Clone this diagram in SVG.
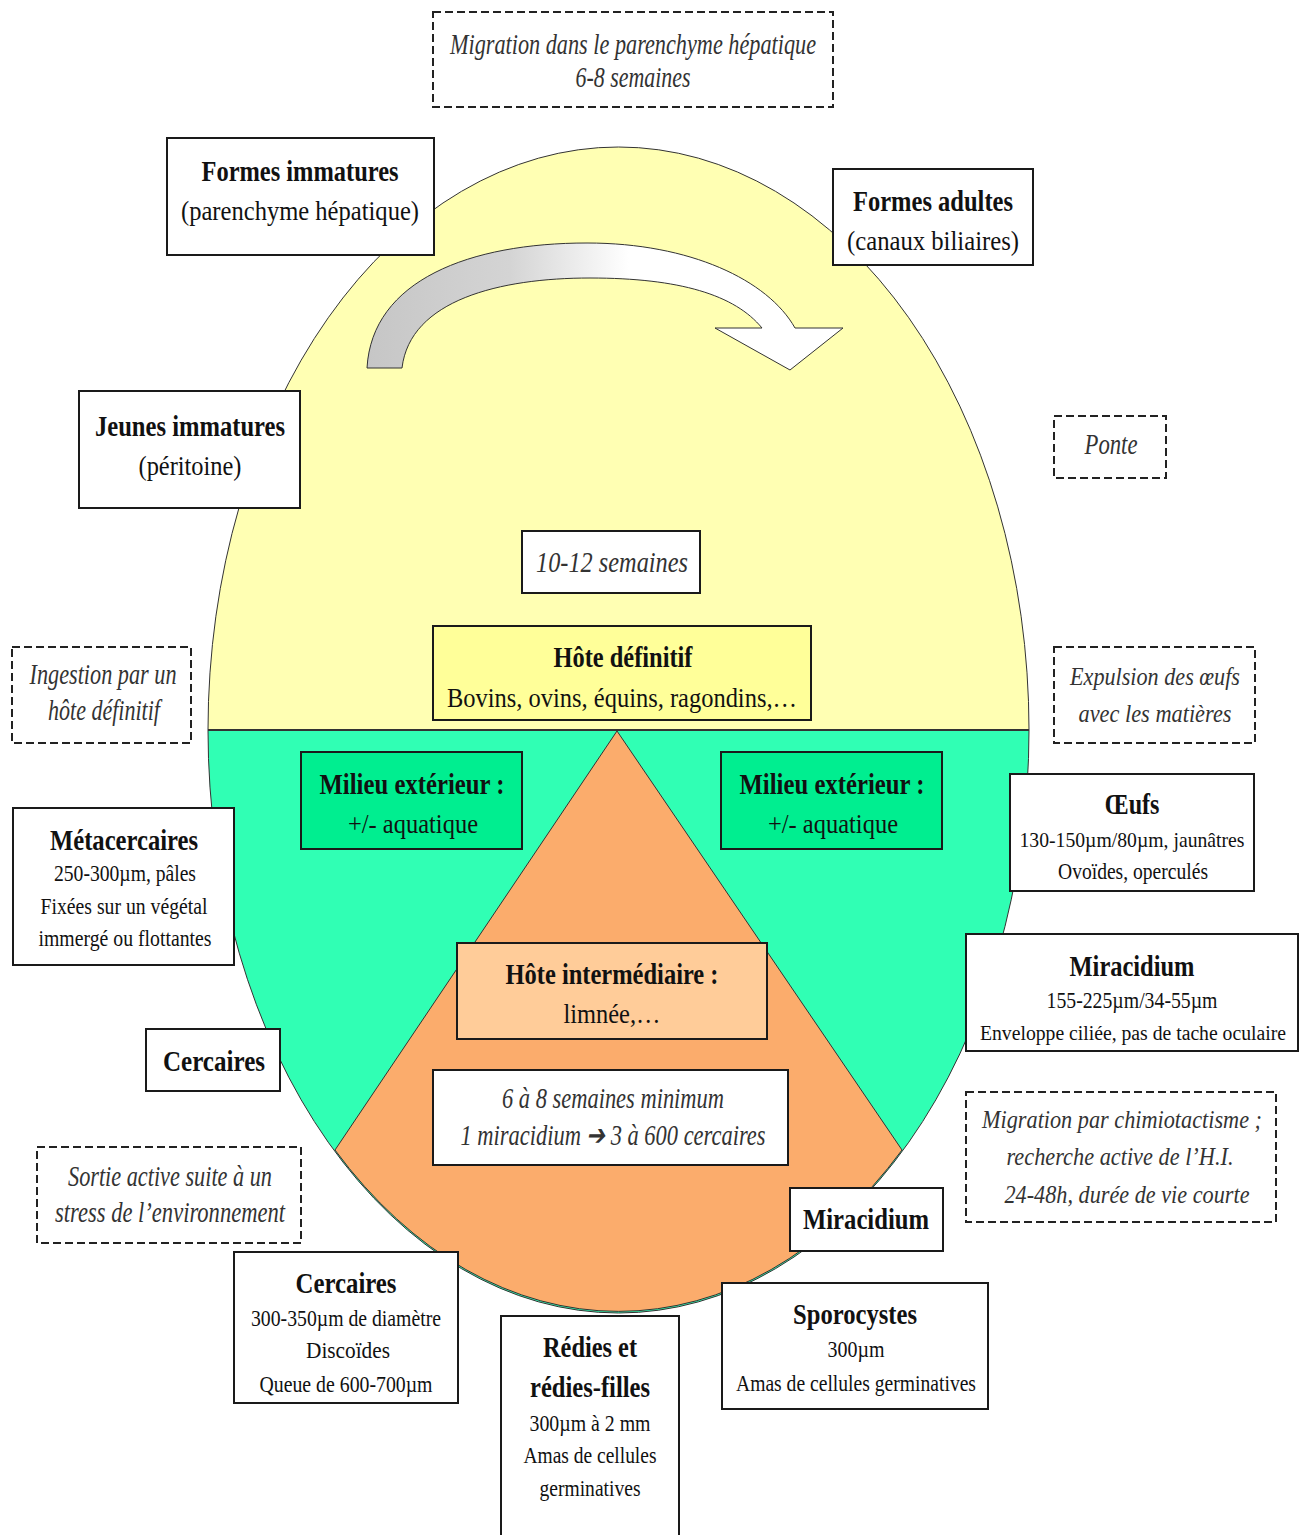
<svg xmlns="http://www.w3.org/2000/svg" width="1307" height="1535" viewBox="0 0 1307 1535" font-family="'Liberation Serif', 'Times New Roman', serif">
<style>
text{text-anchor:middle}
.b{font-weight:bold;font-size:29px;fill:#111}
.r{font-size:24px;fill:#111}
.r2{font-size:28px;fill:#111}
.i{font-style:italic;font-size:29px;fill:#333}
.box{fill:#fff;stroke:#1a1a1a;stroke-width:2}
.dash{fill:#fff;stroke:#222;stroke-width:2;stroke-dasharray:8 4}
</style>
<defs>
<linearGradient id="ag" gradientUnits="userSpaceOnUse" x1="367" y1="0" x2="843" y2="0">
<stop offset="0" stop-color="#c6c6c6"/>
<stop offset="0.3" stop-color="#d4d4d4"/>
<stop offset="0.55" stop-color="#ffffff"/>
<stop offset="1" stop-color="#ffffff"/>
</linearGradient>
</defs>
<rect width="1307" height="1535" fill="#fff"/>
<g id="background">
<path d="M208 730 A410.5 583 0 0 1 1029 730 Z" fill="#ffffb3" stroke="#333" stroke-width="1"/>
<path d="M208 730 A410.5 583 0 0 0 1029 730 Z" fill="#30ffb4" stroke="#333" stroke-width="1"/>
<path d="M617 731 L335 1150 A410.5 583 0 0 0 902 1150 Z" fill="#fbac6c" stroke="#333" stroke-width="1"/>
<line x1="208" y1="730" x2="1029" y2="730" stroke="#333" stroke-width="2"/>
</g>
<g id="connectors">
<path d="M367 368 C372 280 470 243 587 243 C690 243 768 280 795 328 L843 328 L790 370 L715 328 L762 328 C735 295 680 278 590 278 C500 278 410 300 402 368 Z" fill="url(#ag)" stroke="#333" stroke-width="1"/>
</g>
<g id="n-migration-hepatique">
<rect class="dash" x="433" y="12" width="400" height="95"/>
<text class="i" x="633" y="54" textLength="366" lengthAdjust="spacingAndGlyphs">Migration dans le parenchyme hépatique</text>
<text class="i" x="633" y="87" textLength="115" lengthAdjust="spacingAndGlyphs">6-8 semaines</text>
</g>
<g id="n-formes-immatures">
<rect class="box" x="167" y="138" width="267" height="117"/>
<text class="b" x="300" y="181" textLength="197" lengthAdjust="spacingAndGlyphs">Formes immatures</text>
<text class="r2" x="300" y="220" textLength="238" lengthAdjust="spacingAndGlyphs">(parenchyme hépatique)</text>
</g>
<g id="n-formes-adultes">
<rect class="box" x="833" y="169" width="200" height="96"/>
<text class="b" x="933" y="211" textLength="160" lengthAdjust="spacingAndGlyphs">Formes adultes</text>
<text class="r2" x="933" y="250" textLength="172" lengthAdjust="spacingAndGlyphs">(canaux biliaires)</text>
</g>
<g id="n-jeunes-immatures">
<rect class="box" x="79" y="391" width="221" height="117"/>
<text class="b" x="190" y="436" textLength="190" lengthAdjust="spacingAndGlyphs">Jeunes immatures</text>
<text class="r2" x="190" y="475" textLength="103" lengthAdjust="spacingAndGlyphs">(péritoine)</text>
</g>
<g id="n-ponte">
<rect class="dash" x="1054" y="416" width="112" height="62"/>
<text class="i" x="1111" y="454" textLength="53" lengthAdjust="spacingAndGlyphs">Ponte</text>
</g>
<g id="n-10-12">
<rect class="box" x="522" y="531" width="178" height="62"/>
<text class="i" x="612" y="572" textLength="152" lengthAdjust="spacingAndGlyphs">10-12 semaines</text>
</g>
<g id="n-hote-definitif">
<rect class="box" x="433" y="626" width="378" height="94" style="fill:#ffff99"/>
<text class="b" x="623" y="667" textLength="139" lengthAdjust="spacingAndGlyphs">Hôte définitif</text>
<text class="r2" x="622" y="707" textLength="350" lengthAdjust="spacingAndGlyphs">Bovins, ovins, équins, ragondins,…</text>
</g>
<g id="n-ingestion">
<rect class="dash" x="12" y="647" width="179" height="96"/>
<text class="i" x="103" y="684" textLength="147" lengthAdjust="spacingAndGlyphs">Ingestion par un</text>
<text class="i" x="104" y="720" textLength="112" lengthAdjust="spacingAndGlyphs">hôte définitif</text>
</g>
<g id="n-expulsion">
<rect class="dash" x="1054" y="647" width="201" height="96"/>
<text class="i" x="1155" y="685" textLength="170" lengthAdjust="spacingAndGlyphs" style="font-size:26px">Expulsion des œufs</text>
<text class="i" x="1155" y="722" textLength="153" lengthAdjust="spacingAndGlyphs" style="font-size:26px">avec les matières</text>
</g>
<g id="n-milieu-gauche">
<rect class="box" x="301" y="752" width="221" height="97" style="fill:#00ee90"/>
<text class="b" x="412" y="794" textLength="185" lengthAdjust="spacingAndGlyphs">Milieu extérieur :</text>
<text class="r2" x="413" y="833" textLength="130" lengthAdjust="spacingAndGlyphs">+/- aquatique</text>
</g>
<g id="n-milieu-droite">
<rect class="box" x="721" y="752" width="221" height="97" style="fill:#00ee90"/>
<text class="b" x="832" y="794" textLength="185" lengthAdjust="spacingAndGlyphs">Milieu extérieur :</text>
<text class="r2" x="833" y="833" textLength="130" lengthAdjust="spacingAndGlyphs">+/- aquatique</text>
</g>
<g id="n-oeufs">
<rect class="box" x="1010" y="774" width="244" height="117"/>
<text class="b" x="1132" y="814" textLength="55" lengthAdjust="spacingAndGlyphs">Œufs</text>
<text class="r" x="1132" y="847" textLength="225" lengthAdjust="spacingAndGlyphs" style="font-size:22px">130-150µm/80µm, jaunâtres</text>
<text class="r" x="1133" y="879" textLength="150" lengthAdjust="spacingAndGlyphs">Ovoïdes, operculés</text>
</g>
<g id="n-metacercaires">
<rect class="box" x="13" y="808" width="221" height="157"/>
<text class="b" x="124" y="850" textLength="148" lengthAdjust="spacingAndGlyphs">Métacercaires</text>
<text class="r" x="125" y="881" textLength="142" lengthAdjust="spacingAndGlyphs">250-300µm, pâles</text>
<text class="r" x="124" y="914" textLength="167" lengthAdjust="spacingAndGlyphs">Fixées sur un végétal</text>
<text class="r" x="125" y="946" textLength="173" lengthAdjust="spacingAndGlyphs">immergé ou flottantes</text>
</g>
<g id="n-miracidium-desc">
<rect class="box" x="966" y="934" width="332" height="117"/>
<text class="b" x="1132" y="976" textLength="125" lengthAdjust="spacingAndGlyphs">Miracidium</text>
<text class="r" x="1132" y="1008" textLength="171" lengthAdjust="spacingAndGlyphs">155-225µm/34-55µm</text>
<text class="r" x="1133" y="1040" textLength="306" lengthAdjust="spacingAndGlyphs" style="font-size:20px">Enveloppe ciliée, pas de tache oculaire</text>
</g>
<g id="n-hote-intermediaire">
<rect class="box" x="457" y="943" width="310" height="96" style="fill:#ffcc99"/>
<text class="b" x="612" y="984" textLength="213" lengthAdjust="spacingAndGlyphs">Hôte intermédiaire :</text>
<text class="r2" x="612" y="1023" textLength="97" lengthAdjust="spacingAndGlyphs">limnée,…</text>
</g>
<g id="n-cercaires-sortie">
<rect class="box" x="146" y="1029" width="134" height="62"/>
<text class="b" x="214" y="1071" textLength="102" lengthAdjust="spacingAndGlyphs">Cercaires</text>
</g>
<g id="n-duree">
<rect class="box" x="433" y="1070" width="355" height="95"/>
<text class="i" x="613" y="1108" textLength="222" lengthAdjust="spacingAndGlyphs">6 à 8 semaines minimum</text>
<text class="i" x="613" y="1145" textLength="305" lengthAdjust="spacingAndGlyphs">1 miracidium ➔ 3 à 600 cercaires</text>
</g>
<g id="n-migration-chimio">
<rect class="dash" x="966" y="1092" width="310" height="130"/>
<text class="i" x="1122" y="1128" textLength="280" lengthAdjust="spacingAndGlyphs" style="font-size:25px">Migration par chimiotactisme ;</text>
<text class="i" x="1120" y="1165" textLength="227" lengthAdjust="spacingAndGlyphs" style="font-size:26px">recherche active de l’H.I.</text>
<text class="i" x="1127" y="1203" textLength="245" lengthAdjust="spacingAndGlyphs" style="font-size:25px">24-48h, durée de vie courte</text>
</g>
<g id="n-sortie-active">
<rect class="dash" x="37" y="1147" width="264" height="96"/>
<text class="i" x="170" y="1186" textLength="204" lengthAdjust="spacingAndGlyphs">Sortie active suite à un</text>
<text class="i" x="170" y="1222" textLength="230" lengthAdjust="spacingAndGlyphs">stress de l’environnement</text>
</g>
<g id="n-miracidium">
<rect class="box" x="790" y="1188" width="153" height="63"/>
<text class="b" x="866" y="1229" textLength="126" lengthAdjust="spacingAndGlyphs">Miracidium</text>
</g>
<g id="n-cercaires">
<rect class="box" x="234" y="1252" width="224" height="151"/>
<text class="b" x="346" y="1293" textLength="101" lengthAdjust="spacingAndGlyphs">Cercaires</text>
<text class="r" x="346" y="1326" textLength="190" lengthAdjust="spacingAndGlyphs">300-350µm de diamètre</text>
<text class="r" x="348" y="1358" textLength="84" lengthAdjust="spacingAndGlyphs">Discoïdes</text>
<text class="r" x="346" y="1392" textLength="173" lengthAdjust="spacingAndGlyphs">Queue de 600-700µm</text>
</g>
<g id="n-redies">
<rect class="box" x="501" y="1316" width="178" height="230"/>
<text class="b" x="590" y="1357" textLength="94" lengthAdjust="spacingAndGlyphs">Rédies et</text>
<text class="b" x="590" y="1397" textLength="120" lengthAdjust="spacingAndGlyphs">rédies-filles</text>
<text class="r" x="590" y="1431" textLength="121" lengthAdjust="spacingAndGlyphs">300µm à 2 mm</text>
<text class="r" x="590" y="1463" textLength="133" lengthAdjust="spacingAndGlyphs">Amas de cellules</text>
<text class="r" x="590" y="1496" textLength="101" lengthAdjust="spacingAndGlyphs">germinatives</text>
</g>
<g id="n-sporocystes">
<rect class="box" x="722" y="1283" width="266" height="126"/>
<text class="b" x="855" y="1324" textLength="124" lengthAdjust="spacingAndGlyphs">Sporocystes</text>
<text class="r" x="856" y="1357" textLength="57" lengthAdjust="spacingAndGlyphs">300µm</text>
<text class="r" x="856" y="1391" textLength="240" lengthAdjust="spacingAndGlyphs">Amas de cellules germinatives</text>
</g>
</svg>
